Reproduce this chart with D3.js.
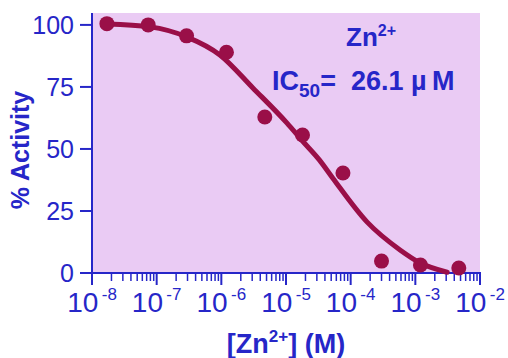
<!DOCTYPE html>
<html>
<head>
<meta charset="utf-8">
<script src="https://cdn.jsdelivr.net/npm/d3@7"></script>
<style>
  html, body { margin: 0; padding: 0; background: #fff; }
  svg { display: block; font-family: "Liberation Sans", Arial, sans-serif; }
</style>
</head>
<body>
<svg id="chart" width="508" height="358"></svg>
<script>
// measured points: concentration (M) and % activity
const concentration = [1.7e-8, 7.4e-8, 2.9e-7, 1.2e-6, 4.7e-6, 1.8e-5, 7.6e-5, 3.0e-4, 1.2e-3, 4.7e-3];
const activity = [100.5, 100, 95.6, 89, 62.9, 55.6, 40.3, 4.8, 3.2, 2.0];

// fitted curve
const fitConc = [1.7e-8, 7.9e-8, 2.9e-7, 9.5e-7, 3.1e-6, 1.03e-5, 1.8e-5, 3.3e-5, 5.3e-5, 1.8e-4, 5.8e-4, 1.2e-3, 3.1e-3];
const fitAct = [100.4, 99.2, 95.2, 87.9, 74.5, 60.5, 53.2, 45.5, 38.2, 20.5, 9.3, 4.0, 0.3];

const yTicks = [0, 25, 50, 75, 100];
const xDecades = [-8, -7, -6, -5, -4, -3, -2];

const blue = "#2626c8";
const maroon = "#9a0f48";

const svg = d3.select("#chart");
const plotL = 92, plotR = 480, plotT = 13, plotB = 273;

const x = d3.scaleLog().domain([1e-8, 1e-2]).range([plotL, plotR]);
const y = d3.scaleLinear().domain([0, 104.8]).range([plotB, plotT]);

svg.append("rect")
  .attr("x", plotL).attr("y", plotT)
  .attr("width", plotR - plotL).attr("height", plotB - plotT)
  .attr("fill", "#eacbf4");

// y axis
const yAxis = svg.append("g").attr("transform", `translate(${plotL},0)`);
yAxis.append("line")
  .attr("x1", 0).attr("x2", 0).attr("y1", plotT).attr("y2", plotB + 1)
  .attr("stroke", blue).attr("stroke-width", 2);
yAxis.selectAll(".yt").data(yTicks).join("line")
  .attr("x1", -12).attr("x2", 0)
  .attr("y1", d => y(d)).attr("y2", d => y(d))
  .attr("stroke", blue).attr("stroke-width", 2);
yAxis.selectAll("text").data(yTicks).join("text")
  .attr("x", -18).attr("y", d => y(d) + 9)
  .attr("text-anchor", "end")
  .attr("font-size", 25)
  .attr("fill", blue)
  .text(d => d);

// x axis
const xAxis = svg.append("g");
xAxis.append("line")
  .attr("x1", plotL - 1).attr("x2", plotR + 1).attr("y1", plotB).attr("y2", plotB)
  .attr("stroke", blue).attr("stroke-width", 2);

const minor = [];
xDecades.slice(0, -1).forEach(e => {
  for (let m = 2; m <= 9; m++) minor.push(m * Math.pow(10, e));
});
xAxis.selectAll(".minor").data(minor).join("line")
  .attr("x1", d => x(d)).attr("x2", d => x(d))
  .attr("y1", plotB).attr("y2", plotB + 8)
  .attr("stroke", blue).attr("stroke-width", 1.5);
xAxis.selectAll(".major").data(xDecades).join("line")
  .attr("x1", d => x(Math.pow(10, d))).attr("x2", d => x(Math.pow(10, d)))
  .attr("y1", plotB).attr("y2", plotB + 12)
  .attr("stroke", blue).attr("stroke-width", 2);

const xl = xAxis.selectAll(".xl").data(xDecades).join("text")
  .attr("x", d => x(Math.pow(10, d)))
  .attr("y", 312)
  .attr("text-anchor", "middle")
  .attr("fill", blue)
  .attr("font-size", 28);
xl.append("tspan").text("10");
xl.append("tspan").attr("dy", -12).attr("font-size", 17).text(d => "\u2009" + d);

// axis titles
const xt = svg.append("text")
  .attr("x", 286).attr("y", 353)
  .attr("text-anchor", "middle")
  .attr("font-size", 27).attr("font-weight", "bold")
  .attr("fill", blue);
xt.append("tspan").text("[Zn");
xt.append("tspan").attr("dy", -11).attr("font-size", 17).text("2+");
xt.append("tspan").attr("dy", 11).text("] (M)");

svg.append("text")
  .attr("transform", "translate(29,150) rotate(-90)")
  .attr("text-anchor", "middle")
  .attr("font-size", 25).attr("font-weight", "bold")
  .attr("fill", blue)
  .text("% Activity");

// fitted curve
const line = d3.line()
  .x((d, i) => x(fitConc[i]))
  .y(d => y(d))
  .curve(d3.curveMonotoneX);

svg.append("path")
  .datum(fitAct)
  .attr("d", line)
  .attr("fill", "none")
  .attr("stroke", maroon)
  .attr("stroke-width", 5)
  .attr("stroke-linecap", "round");

svg.selectAll(".dot").data(activity).join("circle")
  .attr("cx", (d, i) => x(concentration[i]))
  .attr("cy", d => y(d))
  .attr("r", 7.5)
  .attr("fill", maroon);

// annotation
const a1 = svg.append("text")
  .attr("x", 346).attr("y", 46)
  .attr("font-size", 26).attr("font-weight", "bold")
  .attr("fill", blue);
a1.append("tspan").text("Zn");
a1.append("tspan").attr("dy", -10).attr("font-size", 16).text("2+");

const a2 = svg.append("text")
  .attr("x", 272).attr("y", 90)
  .attr("font-size", 27).attr("font-weight", "bold")
  .attr("fill", blue)
  .attr("xml:space", "preserve");
a2.append("tspan").text("IC");
a2.append("tspan").attr("dy", 7).attr("font-size", 19).text("50");
a2.append("tspan").attr("dy", -7).text("=  26.1 \u00b5\u2009M");
</script>
</body>
</html>
